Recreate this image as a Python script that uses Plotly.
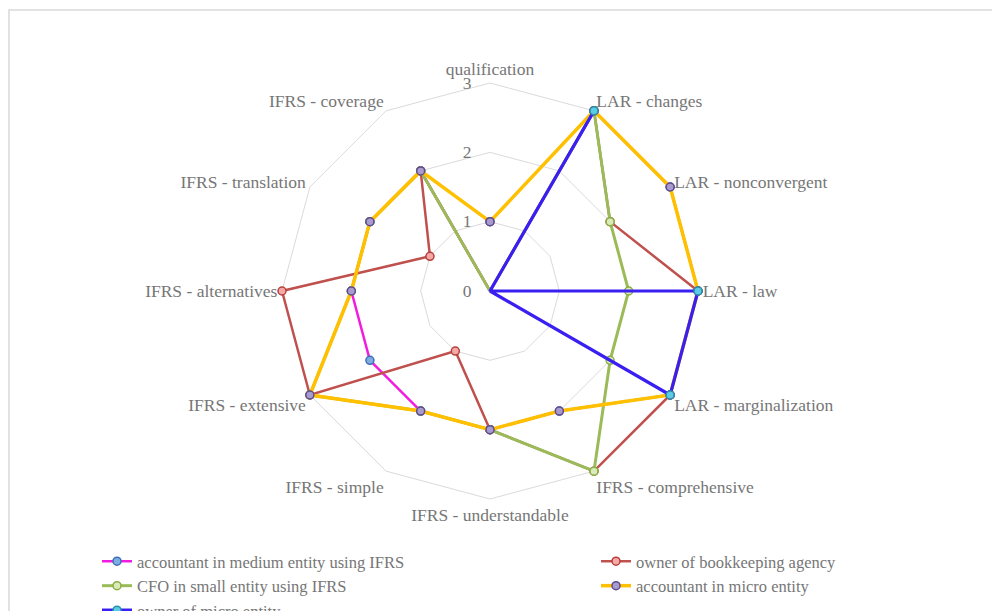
import plotly.graph_objects as go

# Survey categories (clockwise from the top)
categories = [
    "qualification", "LAR - changes", "LAR - nonconvergent", "LAR - law",
    "LAR - marginalization", "IFRS - comprehensive", "IFRS - understandable",
    "IFRS - simple", "IFRS - extensive", "IFRS - alternatives",
    "IFRS - translation", "IFRS - coverage",
]

# Scores per respondent group
accountant_medium_ifrs = [0, 3, 3, 3, 3, 2, 2, 2, 2, 2, 2, 2]
owner_bookkeeping = [0, 3, 2, 3, 3, 3, 2, 1, 3, 3, 1, 2]
cfo_small_ifrs = [0, 3, 2, 2, 2, 3, 2, 2, 3, 2, 2, 2]
accountant_micro = [1, 3, 3, 3, 3, 2, 2, 2, 3, 2, 2, 2]
owner_micro = [0, 3, 0, 3, 3, 0, 0, 0, 0, 0, 0, 0]

radial_ticks = [0, 1, 2, 3]

# name, values, line colour, line width, marker fill, marker edge, legend column
series = [
    ("accountant in medium entity using IFRS", accountant_medium_ifrs,
     "#F21BE0", 2.5, "#7EAEE0", "#3F6FB8", "legend"),
    ("owner of bookkeeping agency", owner_bookkeeping,
     "#C0504D", 2.5, "#F5A9A7", "#B5413E", "legend2"),
    ("CFO in small entity using IFRS", cfo_small_ifrs,
     "#9BBB59", 3, "#D9EBB8", "#8AAE45", "legend"),
    ("accountant in micro entity", accountant_micro,
     "#FFC000", 3.5, "#A99BD0", "#5E4C8E", "legend2"),
    ("owner of micro entity", owner_micro,
     "#3A1FF2", 3.2, "#5CCBE6", "#2C8FAA", "legend"),
]

TEXT = "#767676"
FONT = "Liberation Serif, Times New Roman, serif"
FS = 17.5
LEG_FS = 16.5

fig = go.Figure()
for name, vals, lc, lw, mfill, mline, leg in series:
    fig.add_trace(go.Scatterpolar(
        r=vals + vals[:1],
        theta=categories + categories[:1],
        mode="lines+markers",
        name=name,
        legend=leg,
        cliponaxis=False,
        line=dict(color=lc, width=lw),
        marker=dict(size=8, color=mfill, line=dict(color=mline, width=1.5)),
    ))

W, H = 992, 611
cx, cy = 490, 291
RMAX = 3.06                 # a little headroom so outer lines are not clipped
R = 208 * RMAX / 3          # pixel radius of the full range

legend_common = dict(
    orientation="v",
    xanchor="left", yanchor="top",
    traceorder="normal",
    font=dict(family=FONT, color=TEXT, size=LEG_FS),
    bgcolor="rgba(0,0,0,0)",
    itemwidth=30,
    tracegroupgap=0,
)

fig.update_layout(
    width=W, height=H,
    margin=dict(l=0, r=0, t=0, b=0, autoexpand=False),
    paper_bgcolor="white",
    plot_bgcolor="white",
    font=dict(family=FONT, color=TEXT, size=FS),
    showlegend=True,
    polar=dict(
        domain=dict(x=[(cx - R) / W, (cx + R) / W],
                    y=[1 - (cy + R) / H, 1 - (cy - R) / H]),
        bgcolor="white",
        gridshape="linear",
        radialaxis=dict(
            range=[0, RMAX], tickvals=radial_ticks,
            ticktext=[str(t) for t in radial_ticks],
            angle=90, tickangle=90, side="counterclockwise",
            showline=False, ticks="outside", ticklen=12,
            tickcolor="rgba(0,0,0,0)",
            gridcolor="#DADADA", gridwidth=1,
            tickfont=dict(family=FONT, color=TEXT, size=FS),
        ),
        angularaxis=dict(
            rotation=90, direction="clockwise",
            showgrid=False, showline=False,
            ticks="", tickfont=dict(family=FONT, color=TEXT, size=FS),
        ),
    ),
    legend=dict(legend_common, x=97 / W, y=1 - 544 / H),
    legend2=dict(legend_common, x=596 / W, y=1 - 544 / H),
    shapes=[dict(
        type="rect", xref="paper", yref="paper",
        x0=9 / W, x1=1.02, y0=-0.02, y1=1 - 10 / H,
        line=dict(color="#D9D9D9", width=1.5), fillcolor="rgba(0,0,0,0)",
        layer="below",
    )],
)

fig.write_html("out.html")
